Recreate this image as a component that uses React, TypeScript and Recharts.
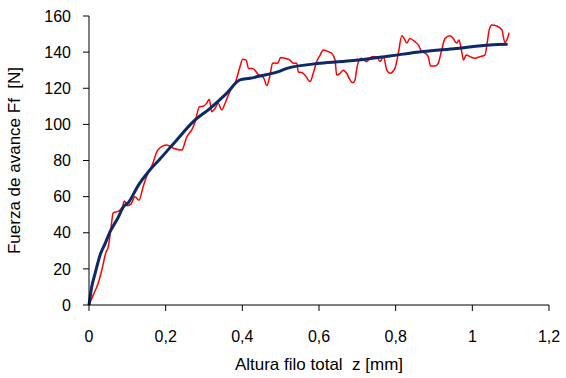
import { LineChart, Line, XAxis, YAxis, Label } from 'recharts'

// measured force (noisy) and fitted trend, z in mm, Ff in N
const MEASURED_Z = [
  0, 0.012, 0.024, 0.033, 0.044, 0.05, 0.057, 0.063, 0.077, 0.087, 0.092, 0.1, 0.11, 0.12, 0.13,
  0.142, 0.15, 0.164, 0.18, 0.203, 0.22, 0.242, 0.255, 0.268, 0.277, 0.288, 0.298, 0.307, 0.314,
  0.32, 0.329, 0.337, 0.346, 0.355, 0.363, 0.372, 0.383, 0.394, 0.401, 0.41, 0.416, 0.427, 0.442,
  0.455, 0.464, 0.472, 0.479, 0.485, 0.492, 0.5, 0.511, 0.524, 0.533, 0.542, 0.546, 0.555, 0.563,
  0.572, 0.577, 0.585, 0.594, 0.603, 0.611, 0.624, 0.633, 0.642, 0.646, 0.655, 0.663, 0.672, 0.681,
  0.688, 0.694, 0.698, 0.703, 0.711, 0.724, 0.738, 0.751, 0.759, 0.768, 0.777, 0.785, 0.798, 0.807,
  0.816, 0.822, 0.829, 0.837, 0.85, 0.859, 0.868, 0.877, 0.885, 0.891, 0.903, 0.911, 0.92, 0.929,
  0.942, 0.95, 0.959, 0.965, 0.97, 0.977, 0.984, 0.994, 1.007, 1.02, 1.033, 1.038, 1.044, 1.051,
  1.064, 1.077, 1.085, 1.09, 1.096,
]
const MEASURED_F = [
  0, 6, 12, 19, 29, 32, 42, 51, 52, 54, 57.6, 55, 56, 60, 58,
  66, 71, 77, 86, 88.6, 86.8, 85.8, 93, 97, 101.5, 109.8, 110, 111.7, 113.9,
  107, 108.9, 111.7, 108, 111.7, 116, 120, 124, 132, 136, 135.6, 131, 131, 127.5,
  126, 121.5, 127, 133.8, 134, 133.8, 137, 136.6, 135.6, 133.8, 133.8, 129, 128.7, 127.3,
  124.6, 123.7, 128.3, 134.8, 138.4, 141.2, 140.3, 139.4, 135.6, 127.3, 128.3, 130, 128.3, 124.6,
  123, 124.6, 130, 134.8, 136.6, 134.8, 137.5, 137.5, 134.8, 137.5, 130, 128.3, 131, 139.4,
  149, 147.6, 145, 147.6, 145.8, 144, 140.3, 139.4, 137.5, 132.3, 132.3, 133.8, 141.2, 147.6,
  149, 147.6, 145, 146.7, 143, 135.6, 138.4, 137.5, 136.6, 137.5, 138.4, 144, 152.3, 155,
  154.5, 152.3, 145.3, 146.7, 150.8,
]

const TREND_Z = [
  0, 0.007, 0.016, 0.029, 0.042, 0.055, 0.075, 0.09, 0.103, 0.129, 0.155, 0.185, 0.229, 0.272,
  0.316, 0.359, 0.394, 0.42, 0.446, 0.494, 0.516, 0.603, 0.69, 0.785, 0.872, 0.959, 1.046, 1.092,
]
const TREND_F = [
  0, 10, 17.5, 27.7, 34, 40.6, 48, 54.4, 56.8, 66.4, 73.8, 80.8, 91.4, 101.5,
  108.9, 117.2, 124.6, 125.5, 126.8, 129.2, 131, 133.8, 135.3, 137.9, 140.3, 142, 144, 144.3,
]

const X_TICKS = [0, 0.2, 0.4, 0.6, 0.8, 1, 1.2]
const Y_TICKS = [0, 20, 40, 60, 80, 100, 120, 140, 160]

const measured = MEASURED_Z.map((z, i) => ({ z, f: MEASURED_F[i] }))
const trend = TREND_Z.map((z, i) => ({ z, f: TREND_F[i] }))

const FONT = '"Liberation Sans", Arial, sans-serif'
const TICK = { fontSize: 16, fill: '#000', fontFamily: FONT }
const NB = '\u00A0'

export default function App() {
  return (
    <div style={{ width: 566, height: 378 }}>
      <style>{'body{margin:0}'}</style>
      <LineChart width={566} height={378} margin={{ top: 16, right: 17, bottom: 0, left: 0 }}>
        <XAxis
          type="number"
          dataKey="z"
          domain={[0, 1.2]}
          ticks={X_TICKS}
          tickFormatter={(v) => String(v).replace('.', ',')}
          tick={TICK}
          tickSize={6}
          tickMargin={20}
          height={73}
          stroke="#000"
          allowDuplicatedCategory={false}
        >
          <Label
            value={`Altura filo total${NB}${NB}z [mm]`}
            position="insideBottom"
            offset={8}
            style={{ fontSize: 17, fill: '#000', fontFamily: FONT }}
          />
        </XAxis>
        <YAxis
          type="number"
          domain={[0, 160]}
          ticks={Y_TICKS}
          tick={TICK}
          tickSize={6}
          tickMargin={12}
          width={89}
          stroke="#000"
        >
          <Label
            value={`Fuerza de avance Ff${NB}${NB}[N]`}
            angle={-90}
            position="insideLeft"
            offset={14}
            style={{ fontSize: 17, fill: '#000', fontFamily: FONT, textAnchor: 'middle' }}
          />
        </YAxis>
        <Line
          data={measured}
          dataKey="f"
          type="monotone"
          stroke="#ff0000"
          strokeWidth={1.5}
          dot={false}
          isAnimationActive={false}
        />
        <Line
          data={trend}
          dataKey="f"
          type="monotone"
          stroke="#0b2a68"
          strokeWidth={3}
          dot={false}
          isAnimationActive={false}
        />
      </LineChart>
    </div>
  )
}
